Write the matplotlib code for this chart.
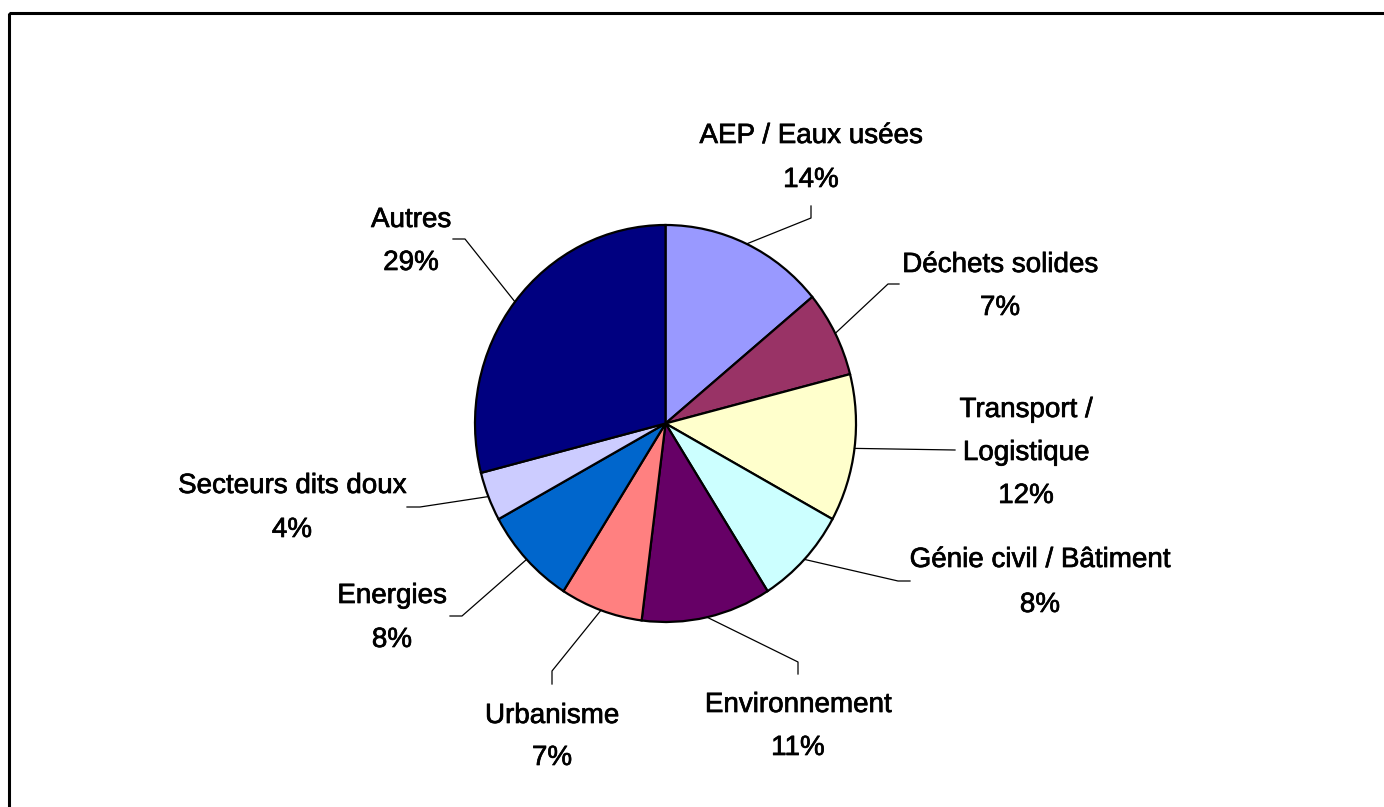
import numpy as np
import matplotlib
matplotlib.use("Agg")
import matplotlib.pyplot as plt
from matplotlib.patches import Rectangle
import matplotlib.patheffects as pe

# ---- data ----
categories = ["AEP / Eaux usées", "Déchets solides", "Transport /\nLogistique",
              "Génie civil / Bâtiment", "Environnement", "Urbanisme",
              "Energies", "Secteurs dits doux", "Autres"]
values = [14, 7, 12, 8, 11, 7, 8, 4, 29]
colors = ["#9999FF", "#993366", "#FFFFCC", "#CCFFFF", "#660066",
          "#FF8080", "#0066CC", "#CCCCFF", "#000080"]

# ---- layout (pixels) ----
W, H = 1384, 807
cx, cy = 665.5, 423.5
rx, ry = 190.5, 198.5

# label text anchor: (center x, first baseline y, line step)
label_pos = [(811, 143, 44), (1000, 272, 43), (1026, 417, 43),
             (1040, 567, 45), (798, 712, 43), (552, 723, 42),
             (392, 603, 44), (292, 493, 44), (411, 227, 43)]
# leader polylines after the start point on the pie edge
leaders = [[(811, 218), (811, 206)],
           [(888, 284), (899, 284)],
           [(955, 450)],
           [(898, 581), (910, 581)],
           [(798, 662), (798, 674)],
           [(552, 671), (552, 684)],
           [(462, 616), (450, 616)],
           [(420, 507), (407, 507)],
           [(465, 239), (453, 239)]]

plt.rcParams['font.family'] = ['Liberation Sans', 'DejaVu Sans']

fig = plt.figure(figsize=(W / 100, H / 100), dpi=100)
fig.patch.set_facecolor("white")

# pie axes (elliptical pie)
pad = 1.03
pax = fig.add_axes([(cx - rx * pad) / W, 1 - (cy + ry * pad) / H,
                    2 * rx * pad / W, 2 * ry * pad / H])
wedges, _ = pax.pie(values, colors=colors, startangle=90, counterclock=False,
                    wedgeprops=dict(edgecolor="black", linewidth=1.6))
pax.set_aspect("auto")
pax.set_xlim(-pad, pad)
pax.set_ylim(-pad, pad)
pax.axis("off")

ax2 = fig.add_axes([0, 0, 1, 1], zorder=3)
ax2.set_xlim(0, W)
ax2.set_ylim(H, 0)
ax2.axis("off")
ax2.patch.set_alpha(0)

# border (only top and left visible)
ax2.add_patch(Rectangle((9, 13), W + 20, H + 20, fill=False,
                        edgecolor="black", linewidth=2.2, clip_on=False))

total = sum(values)
cum = np.cumsum(values)
thick = [pe.withStroke(linewidth=0.5, foreground="black")]
for i, (cat, v) in enumerate(zip(categories, values)):
    mid = 360.0 * (cum[i] - v / 2) / total
    t = np.deg2rad(mid)
    sx = cx + rx * np.sin(t)
    sy = cy - ry * np.cos(t)
    pts = [(sx, sy)] + leaders[i]
    xs, ys = zip(*pts)
    ax2.plot(xs, ys, color="black", linewidth=0.9)
    lx, ly, step = label_pos[i]
    lines = cat.split("\n") + [f"{v}%"]
    for k, line in enumerate(lines):
        ax2.text(lx, ly + k * step, line, ha="center", va="baseline",
                 fontsize=20, color="black", path_effects=thick)

fig.savefig("out.png", dpi=100, facecolor="white")
